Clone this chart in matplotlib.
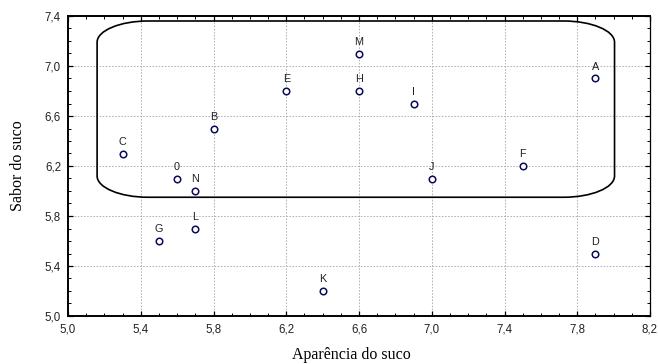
import numpy as np
import matplotlib
matplotlib.use("Agg")
import matplotlib.pyplot as plt
from matplotlib.path import Path
from matplotlib.patches import PathPatch

# samples: appearance (x) vs taste (y)
labels = ["A", "B", "C", "D", "E", "F", "G", "H", "I", "J", "K", "L", "M", "N", "0"]
aparencia = [7.9, 5.8, 5.3, 7.9, 6.2, 7.5, 5.5, 6.6, 6.9, 7.0, 6.4, 5.7, 6.6, 5.7, 5.6]
sabor = [6.9, 6.5, 6.3, 5.5, 6.8, 6.2, 5.6, 6.8, 6.7, 6.1, 5.2, 5.7, 7.1, 6.0, 6.1]

xticks = [5.0, 5.4, 5.8, 6.2, 6.6, 7.0, 7.4, 7.8, 8.2]
yticks = [5.0, 5.4, 5.8, 6.2, 6.6, 7.0, 7.4]


def rounded_box(x0, y0, x1, y1, rx, ry):
    # rectangle with elliptical corners, in data coords
    k = 0.55
    verts = [
        (x0 + rx, y0), (x1 - rx, y0),
        (x1 - rx + k * rx, y0), (x1, y0 + ry - k * ry), (x1, y0 + ry),
        (x1, y1 - ry),
        (x1, y1 - ry + k * ry), (x1 - rx + k * rx, y1), (x1 - rx, y1),
        (x0 + rx, y1),
        (x0 + rx - k * rx, y1), (x0, y1 - ry + k * ry), (x0, y1 - ry),
        (x0, y0 + ry),
        (x0, y0 + ry - k * ry), (x0 + rx - k * rx, y0), (x0 + rx, y0),
    ]
    codes = [Path.MOVETO, Path.LINETO,
             Path.CURVE4, Path.CURVE4, Path.CURVE4,
             Path.LINETO,
             Path.CURVE4, Path.CURVE4, Path.CURVE4,
             Path.LINETO,
             Path.CURVE4, Path.CURVE4, Path.CURVE4,
             Path.LINETO,
             Path.CURVE4, Path.CURVE4, Path.CURVE4]
    return Path(verts, codes)


plt.rcParams["font.family"] = ["Liberation Sans", "DejaVu Sans"]

fig = plt.figure(figsize=(6.58, 3.64), dpi=100)
ax = fig.add_axes([68 / 658, 1 - 316 / 364, 582 / 658, 300 / 364])

ax.set_xlim(5.0, 8.2)
ax.set_ylim(5.0, 7.4)
ax.set_xticks(xticks)
ax.set_yticks(yticks)
ax.set_xticklabels([f"{v:.1f}".replace(".", ",") for v in xticks])
ax.set_yticklabels([f"{v:.1f}".replace(".", ",") for v in yticks])
ax.xaxis.set_minor_locator(matplotlib.ticker.MultipleLocator(0.1))
ax.yaxis.set_minor_locator(matplotlib.ticker.MultipleLocator(0.1))
ax.tick_params(which="both", direction="in", top=True, right=True,
               colors="black", labelcolor="#222222", labelsize=8.3)
ax.tick_params(which="major", length=3.5, width=0.9)
ax.tick_params(which="minor", length=2.2, width=0.7)
ax.tick_params(axis="y", pad=5)
ax.tick_params(axis="x", pad=5.5)

ax.grid(True, which="major", linestyle=(0, (1.6, 1.6)), color="#b0b0b0", linewidth=0.7)
ax.set_axisbelow(True)

for side in ["left", "bottom", "top"]:
    ax.spines[side].set_linewidth(1.4)
ax.spines["right"].set_linewidth(0.9)

box = rounded_box(5.16, 5.95, 8.005, 7.36, 0.28, 0.17)
ax.add_patch(PathPatch(box, facecolor="none", edgecolor="black", linewidth=1.2, zorder=2))

ax.scatter(aparencia, sabor, s=22, facecolors="white", edgecolors="#0a0a5a",
           linewidths=1.1, zorder=3)
for lab, x, y in zip(labels, aparencia, sabor):
    ax.annotate(lab, (x, y), xytext=(0, 8.5), textcoords="offset points",
                ha="center", va="center", fontsize=7.8, color="#222222")

ax.set_xlabel("Aparência do suco", family=["Liberation Serif", "DejaVu Serif"], fontsize=11.5)
ax.set_ylabel("Sabor do suco", family=["Liberation Serif", "DejaVu Serif"], fontsize=11.5)
ax.xaxis.label.set_verticalalignment("bottom")
ax.xaxis.set_label_coords((351 - 68) / 582, (316 - 363) / 300)
ax.yaxis.label.set_verticalalignment("center")
ax.yaxis.set_label_coords((18 - 68) / 582, 0.5)

fig.savefig("out.png", dpi=100)
